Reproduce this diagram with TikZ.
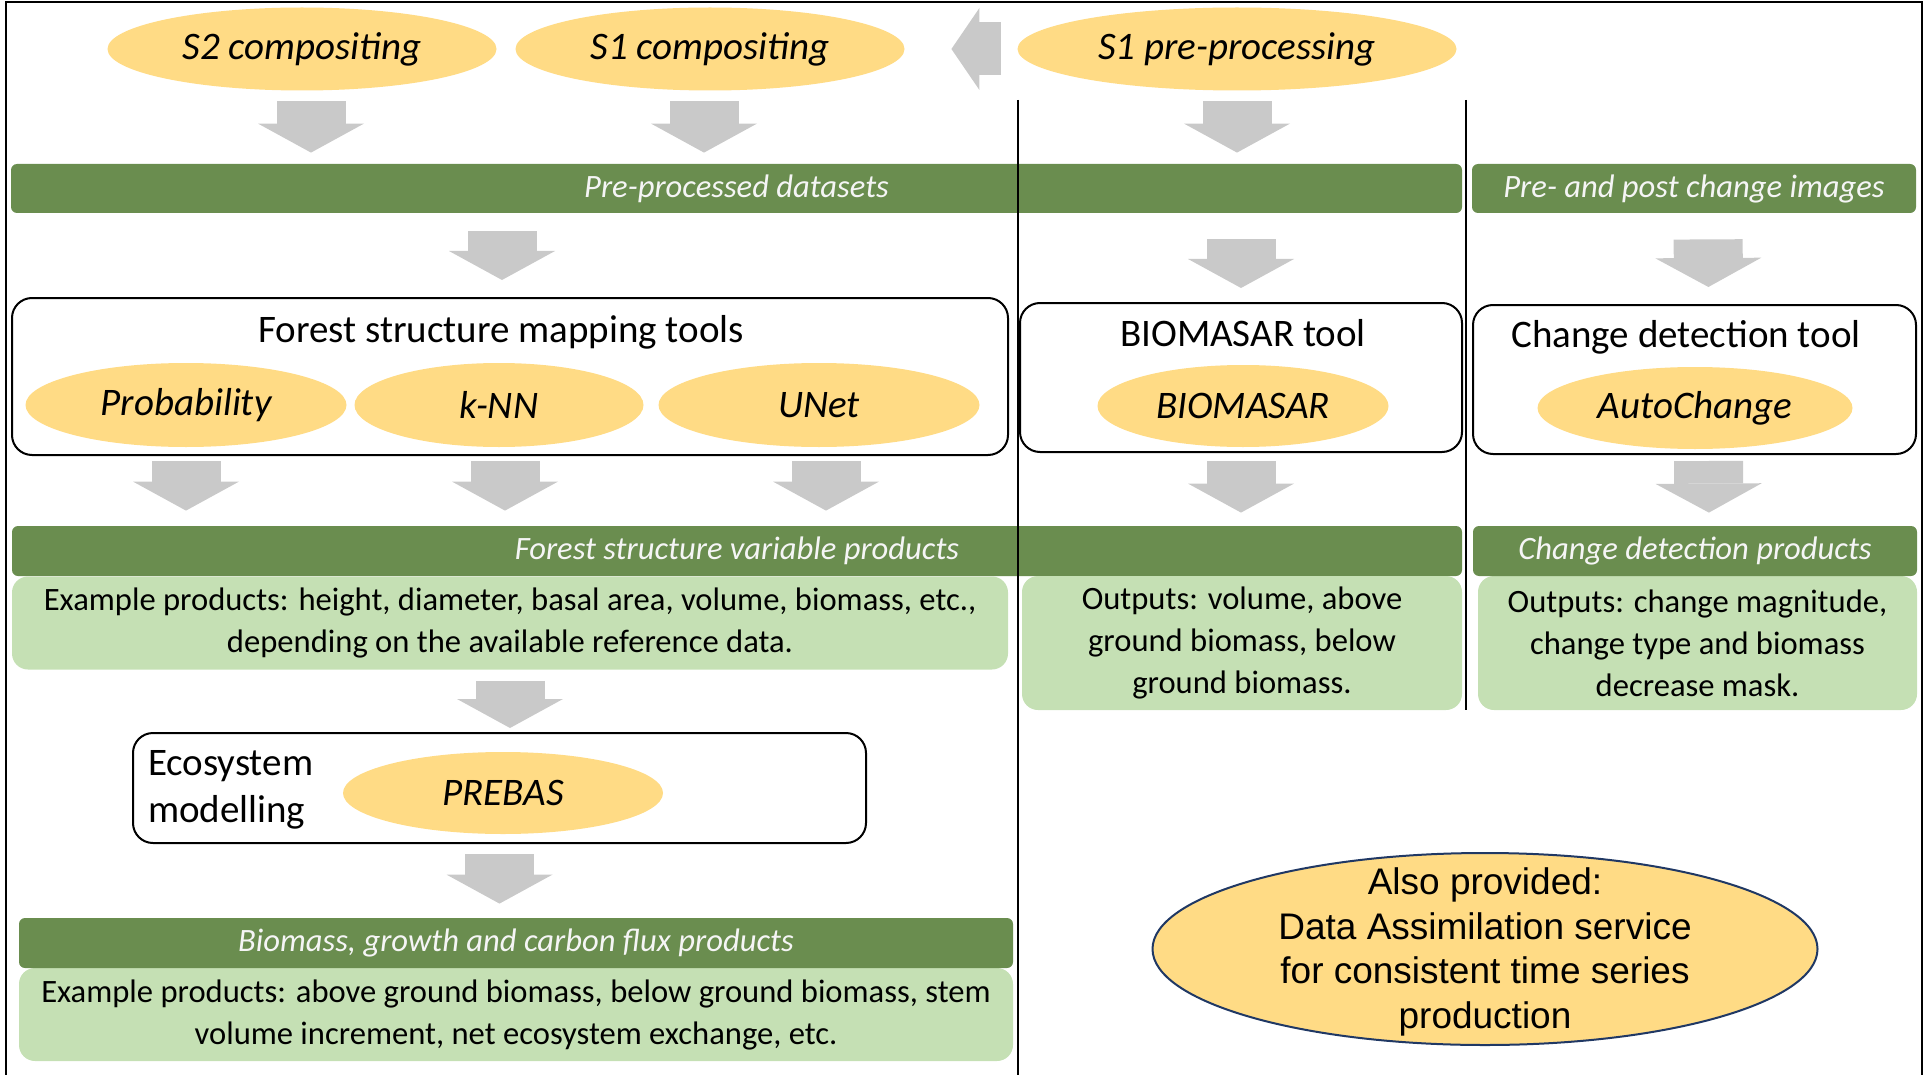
\documentclass[tikz,border=0pt]{standalone}
\usepackage{fontspec}
\setmainfont{Carlito}
\newfontfamily\arialfont{Liberation Sans}
\usetikzlibrary{shapes.geometric,arrows.meta}

\definecolor{ellyellow}{HTML}{FFDB85}
\definecolor{bargreen}{HTML}{6A8D4F}
\definecolor{palegreen}{HTML}{C5E0B4}
\definecolor{arrowgray}{HTML}{C9C9C9}
\definecolor{navyline}{HTML}{203864}

\begin{document}
\begin{tikzpicture}[
  x=0.5pt, y=-0.5pt,
  oval/.style={ellipse, fill=ellyellow, inner sep=0pt, font=\fontsize{19.5}{23}\selectfont\itshape},
  toolbox/.style={rectangle, draw, line width=1pt, rounded corners=10pt},
  header/.style={rectangle, fill=bargreen, rounded corners=3pt, text=gray!8, font=\fontsize{16.3}{19}\selectfont\itshape},
  outputs/.style={rectangle, fill=palegreen, rounded corners=8pt, align=center, font=\fontsize{16.3}{21}\selectfont},
  title/.style={font=\fontsize{19.5}{23}\selectfont},
  blockarrow/.style={line width=34.5pt, arrowgray, -{Triangle[length=14.5pt, width=53pt, line width=0pt]}},
  backarrow/.style={line width=26.5pt, arrowgray, -{Triangle[length=14pt, width=41pt, line width=0pt]}},
]
\useasboundingbox (0,0) rectangle (1926,1075);

% === INPUT PROCESSING ===
\node[oval, minimum width=194.5pt, minimum height=41.5pt] (s2) at (302, 49) {S2 compositing};
\node[oval, minimum width=194.5pt, minimum height=41.5pt] (s1c) at (710, 49) {S1 compositing};
\node[oval, minimum width=219.5pt, minimum height=41.5pt] (s1p) at (1237, 49) {S1 pre-processing};

\node[header, minimum width=725.5pt, minimum height=24.5pt] (pre) at (736.5, 188.5) {Pre-processed datasets};
\node[header, minimum width=222pt, minimum height=24.5pt] (prechg) at (1694, 188.5) {Pre- and post change images};

% === TOOLS ===
\node[toolbox, minimum width=498pt, minimum height=78.5pt] (ftools) at (510, 376.5) {};
\node[title] (ftoolsT) at (501, 332) {Forest structure mapping tools};
\node[oval, minimum width=160.5pt, minimum height=42pt] (prob) at (186, 405) {Probability};
\node[oval, minimum width=144.5pt, minimum height=42pt] (knn) at (499, 405) {k-NN};
\node[oval, minimum width=160.5pt, minimum height=42pt] (unet) at (819, 405) {UNet};

\node[toolbox, minimum width=221pt, minimum height=74.5pt] (bbox) at (1241, 377.5) {};
\node[title] (bboxT) at (1243, 333) {BIOMASAR tool};
\node[oval, minimum width=145.5pt, minimum height=41pt] (bmsr) at (1243, 406) {BIOMASAR};

\node[toolbox, minimum width=221.5pt, minimum height=74.5pt] (cbox) at (1694.5, 379.5) {};
\node[title] (cboxT) at (1686, 337) {Change detection tool};
\node[oval, minimum width=157.5pt, minimum height=41pt] (autoc) at (1695, 408) {AutoChange};

% === PRODUCTS ===
\node[outputs, minimum width=498pt, minimum height=46.5pt] (fvpL) at (510, 623) {Example products: height, diameter, basal area, volume, biomass, etc.,\\depending on the available reference data.};
\node[header, minimum width=725pt, minimum height=25pt] (fvp) at (737, 551) {Forest structure variable products};
\node[outputs, minimum width=220pt, minimum height=67pt] (bmsrL) at (1242, 643) {Outputs: volume, above\\ground biomass, below\\ground biomass.};
\node[outputs, minimum width=219.5pt, minimum height=67pt] (cdpL) at (1697.5, 643) {Outputs: change magnitude,\\change type and biomass\\decrease mask.};
\node[header, minimum width=222pt, minimum height=25pt] (cdp) at (1695, 551) {Change detection products};

% === ECOSYSTEM MODELLING ===
\node[toolbox, minimum width=366.5pt, minimum height=55pt] (eco) at (499.5, 788) {};
\node[title, anchor=west, align=left, font=\fontsize{19.5}{23.5}\selectfont] (ecoT) at (141, 790) {Ecosystem\\modelling};
\node[oval, minimum width=160pt, minimum height=41pt] (prebas) at (503, 793) {PREBAS};

\node[outputs, minimum width=497pt, minimum height=46.5pt] (bgcL) at (516, 1014.5) {Example products: above ground biomass, below ground biomass, stem\\volume increment, net ecosystem exchange, etc.};
\node[header, minimum width=497pt, minimum height=25pt] (bgc) at (516, 943) {Biomass, growth and carbon flux products};

% === DATA ASSIMILATION ===
\node[ellipse, draw=navyline, line width=1pt, fill=ellyellow, minimum width=332.5pt, minimum height=96pt] (assim) at (1485, 949) {};
\node[align=center, font=\arialfont\fontsize{18.5}{22.3}\selectfont] (assimT) at ([yshift=-1.5pt]assim.center) {Also provided:\\Data Assimilation service\\for consistent time series\\production};

% frame and column rules
\draw[line width=1pt] (6,1075) -- (6,2) -- (1922,2) -- (1922,1075);
\draw[line width=0.6pt] (1018,100) -- (1018,1075);
\draw[line width=0.6pt] (1466,100) -- (1466,710);

% arrows
\draw[backarrow, shorten <=8pt, shorten >=23.25pt] (s1p.west) -- (s1c.east);
\draw[blockarrow, shorten <=5.25pt, shorten >=5.5pt] ([xshift=4.5pt]s2.south) -- ([xshift=4.5pt]s2.south |- pre.north);
\draw[blockarrow, shorten <=5.25pt, shorten >=5.5pt] ([xshift=-3pt]s1c.south) -- ([xshift=-3pt]s1c.south |- pre.north);
\draw[blockarrow, shorten <=5.25pt, shorten >=5.5pt] (s1p.south) -- (s1p.south |- pre.north);
\draw[blockarrow, shorten <=9pt, shorten >=8.5pt] ([xshift=-4pt]pre.south -| ftools.north) -- ([xshift=-4pt]ftools.north);
\draw[blockarrow, shorten <=13pt, shorten >=7pt] (pre.south -| bbox.north) -- (bbox.north);
\draw[blockarrow, shorten <=13pt, shorten >=8.5pt] ([xshift=7pt]prechg.south) -- ([xshift=7pt]cbox.north);
\draw[blockarrow, shorten <=2.5pt, shorten >=7.5pt] (prob |- ftools.south) -- (prob |- fvp.north);
\draw[blockarrow, shorten <=2.5pt, shorten >=7.5pt] ([xshift=3pt]knn |- ftools.south) -- ([xshift=3pt]knn |- fvp.north);
\draw[blockarrow, shorten <=2.5pt, shorten >=7.5pt] ([xshift=3.5pt]unet |- ftools.south) -- ([xshift=3.5pt]unet |- fvp.north);
\draw[blockarrow, shorten <=4pt, shorten >=6.5pt] (bbox.south) -- (bbox.south |- fvp.north);
\draw[blockarrow, shorten <=3pt, shorten >=6.5pt] ([xshift=7pt]cbox.south) -- ([xshift=7pt]cdp.north);
\draw[blockarrow, shorten <=5.5pt, shorten >=2pt] (fvpL.south) -- (fvpL.south |- eco.north);
\draw[blockarrow, shorten <=5pt, shorten >=7pt] (eco.south) -- (eco.south |- bgc.north);
\end{tikzpicture}
\end{document}
